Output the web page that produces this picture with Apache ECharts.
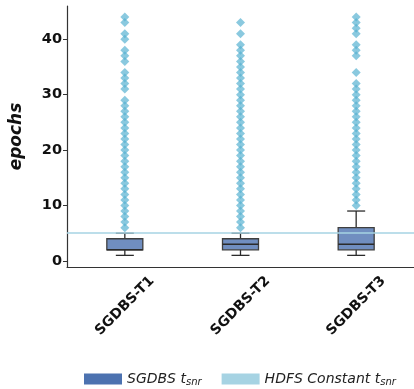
<!DOCTYPE html>
<html>
<head>
<meta charset="utf-8">
<script src="https://cdn.jsdelivr.net/npm/echarts@6/dist/echarts.min.js"></script>
<style>
html,body{margin:0;padding:0;background:#fff;}
#chart{width:414px;height:389px;}
</style>
</head>
<body>
<div id="chart"></div>
<script>
var categories = ['SGDBS-T1', 'SGDBS-T2', 'SGDBS-T3'];
// [min whisker, Q1, median, Q3, max whisker]
var boxT1 = [1, 2, 2, 4, 5];
var boxT2 = [1, 2, 3, 4, 5];
var boxT3 = [1, 2, 3, 6, 9];
var outliersT1 = [6,7,8,9,10,11,12,13,14,15,16,17,18,19,20,21,22,23,24,25,26,27,28,29,31,32,33,34,36,37,38,40,41,43,44];
var outliersT2 = [6,7,8,9,10,11,12,13,14,15,16,17,18,19,20,21,22,23,24,25,26,27,28,29,30,31,32,33,34,35,36,37,38,39,41,43];
var outliersT3 = [10,11,12,13,14,15,16,17,18,19,20,21,22,23,24,25,26,27,28,29,30,31,32,34,37,38,39,41,42,43,44];
var hdfsConstant = 5;
var yTicks = [0, 10, 20, 30, 40];

var boxData = [boxT1, boxT2, boxT3].map(function (b, i) { return [i].concat(b); });
var outlierData = [];
[outliersT1, outliersT2, outliersT3].forEach(function (arr, i) {
  arr.forEach(function (v) { outlierData.push([i, v]); });
});

function renderBox(params, api) {
  var x = api.value(0);
  var pMin = api.coord([x, api.value(1)]);
  var pQ1 = api.coord([x, api.value(2)]);
  var pMed = api.coord([x, api.value(3)]);
  var pQ3 = api.coord([x, api.value(4)]);
  var pMax = api.coord([x, api.value(5)]);
  var cx = pMed[0];
  var half = 18, cap = 9;
  var ls = { stroke: '#2b2b2b', lineWidth: 1.3 };
  return {
    type: 'group',
    children: [
      { type: 'line', shape: { x1: cx, y1: pQ1[1], x2: cx, y2: pMin[1] }, style: ls },
      { type: 'line', shape: { x1: cx - cap, y1: pMin[1], x2: cx + cap, y2: pMin[1] }, style: ls },
      { type: 'line', shape: { x1: cx, y1: pQ3[1], x2: cx, y2: pMax[1] }, style: ls },
      { type: 'line', shape: { x1: cx - cap, y1: pMax[1], x2: cx + cap, y2: pMax[1] }, style: ls },
      { type: 'rect', shape: { x: cx - half, y: pQ3[1], width: half * 2, height: pQ1[1] - pQ3[1] },
        style: { fill: 'rgba(76,114,176,0.8)', stroke: '#3f3f3f', lineWidth: 1.3 } },
      { type: 'line', shape: { x1: cx - half, y1: pMed[1], x2: cx + half, y2: pMed[1] }, style: { stroke: '#2b2b2b', lineWidth: 1.5 } }
    ]
  };
}

var chart = echarts.init(document.getElementById('chart'));
var font = 'DejaVu Sans';
chart.setOption({
  animation: false,
  textStyle: { fontFamily: font },
  grid: { left: 67, top: 6, right: -4, bottom: 122 },
  legend: {
    left: 79, top: 367,
    itemWidth: 38, itemHeight: 11, itemGap: 20,
    data: [
      { name: 'SGDBS', icon: 'rect', itemStyle: { color: '#4c72b0', borderWidth: 0 } },
      { name: 'HDFS', icon: 'rect', itemStyle: { color: '#a6d3e3', borderWidth: 0 } }
    ],
    formatter: function (n) {
      return n === 'SGDBS' ? '{n|SGDBS t}{s|snr}' : '{n|HDFS Constant t}{s|snr}';
    },
    textStyle: {
      fontFamily: font, fontStyle: 'italic', fontSize: 14, color: '#222',
      rich: {
        n: { fontFamily: font, fontStyle: 'italic', fontSize: 14, color: '#222' },
        s: { fontFamily: font, fontStyle: 'italic', fontSize: 10, color: '#222', padding: [6, 0, 0, 0] }
      }
    }
  },
  xAxis: {
    type: 'category',
    data: categories,
    axisLine: { onZero: false, lineStyle: { color: '#333', width: 1.2 } },
    axisTick: { alignWithLabel: true, length: 4, lineStyle: { color: '#333' } },
    axisLabel: {
      rotate: 45, align: 'center', verticalAlign: 'middle', margin: 39,
      fontFamily: font, fontWeight: 'bold', fontSize: 14, color: '#111'
    },
    splitLine: { show: false }
  },
  yAxis: {
    type: 'value',
    min: -1.1, max: 46,
    name: 'epochs',
    nameLocation: 'middle',
    nameGap: 42,
    nameTextStyle: { fontFamily: font, fontWeight: 'bold', fontStyle: 'italic', fontSize: 17, color: '#111' },
    axisLine: { show: true, lineStyle: { color: '#333', width: 1.2 } },
    axisTick: { show: true, length: 4, customValues: yTicks, lineStyle: { color: '#333' } },
    axisLabel: { customValues: yTicks, fontFamily: font, fontWeight: 'bold', fontSize: 14.5, color: '#111', margin: 5 },
    splitLine: { show: false }
  },
  series: [
    {
      name: 'SGDBS',
      type: 'custom',
      renderItem: renderBox,
      data: boxData,
      encode: { x: 0, y: [1, 2, 3, 4, 5] },
      itemStyle: { color: '#4c72b0' },
      z: 3
    },
    {
      name: 'outliers',
      type: 'scatter',
      symbol: 'diamond',
      symbolSize: [9, 9],
      data: outlierData,
      itemStyle: { color: 'rgba(84,176,208,0.85)' },
      z: 4
    },
    {
      name: 'HDFS',
      type: 'line',
      data: [],
      lineStyle: { color: '#a6d3e3' },
      itemStyle: { color: '#a6d3e3' },
      markLine: {
        silent: true,
        symbol: ['none', 'none'],
        label: { show: false },
        lineStyle: { color: '#a6d3e3', type: 'solid', width: 1.5 },
        data: [{ yAxis: hdfsConstant }]
      },
      z: 2
    }
  ]
});
</script>
</body>
</html>
